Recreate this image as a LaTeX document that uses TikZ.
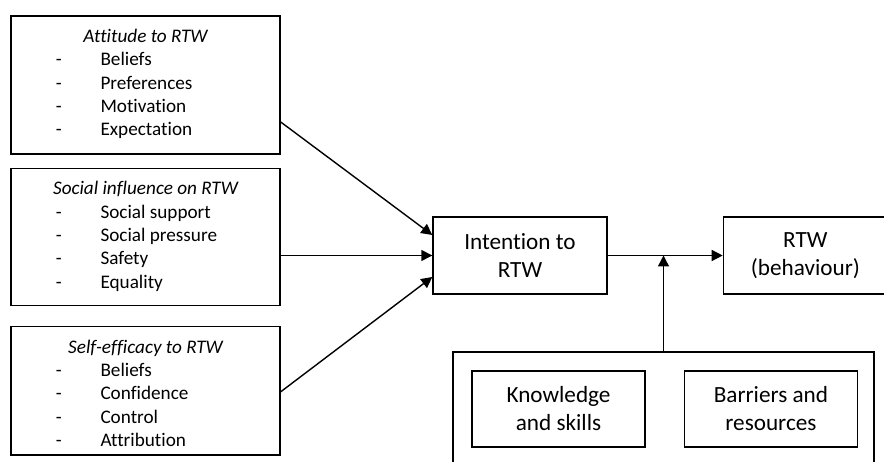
\documentclass[tikz,border=0pt]{standalone}
\usepackage{fontspec}
\setmainfont[Ligatures=NoCommon]{Carlito}
\usetikzlibrary{arrows.meta,positioning,calc}
\tikzset{
  >={Triangle[length=11pt,width=11pt]},
  box/.style  ={draw=black,line width=1.4pt,inner sep=0pt,align=center,
                font=\fontsize{23.2}{28}\selectfont},
  fbox/.style ={box,minimum width=269pt},
  mbox/.style ={box,minimum width=173pt,minimum height=76pt},
  head/.style ={font=\fontsize{19.2}{23}\selectfont\itshape,inner sep=0pt,anchor=base},
  item/.style ={font=\fontsize{19.2}{23}\selectfont,inner sep=0pt,anchor=base west},
  dsh/.style  ={font=\fontsize{19.2}{23}\selectfont,inner sep=0pt,anchor=base},
  ar/.style   ={->,line width=1.4pt},
}

\begin{document}
\begin{tikzpicture}[x=1pt,y=-1pt]
\useasboundingbox (0,0) rectangle (884,462);
% the three factor boxes
\node[fbox,minimum height=138pt] (att) at (145.5,85) {};
\node[fbox,minimum height=137pt,below=13pt of att] (soc) {};
\node[fbox,minimum height=128pt,below=20pt of soc] (eff) {};
\node[head] (att-h) at ($(att.north)+(0,27)$) {Attitude to RTW};
\node[head] (soc-h) at ($(soc.north)+(0,27)$) {Social influence on RTW};
\node[head] (eff-h) at ($(eff.north)+(0,27)$) {Self-efficacy to RTW};
\foreach \w [count=\i] in {Beliefs,Preferences,Motivation,Expectation}{
  \node[dsh] (att-d\i) at ($(att.north west)+(48.5,27+23.4*\i)$) {-};
  \node[item] (att-\i) at ($(att.north west)+(90,27+23.4*\i)$) {\w};
}
\foreach \w [count=\i] in {Social support,Social pressure,Safety,Equality}{
  \node[dsh] (soc-d\i) at ($(soc.north west)+(48.5,27+23.4*\i)$) {-};
  \node[item] (soc-\i) at ($(soc.north west)+(90,27+23.4*\i)$) {\w};
}
\foreach \w [count=\i] in {Beliefs,Confidence,Control,Attribution}{
  \node[dsh] (eff-d\i) at ($(eff.north west)+(48.5,27+23.4*\i)$) {-};
  \node[item] (eff-\i) at ($(eff.north west)+(90,27+23.4*\i)$) {\w};
}
% intention and behaviour
\node[box,minimum width=174pt,minimum height=77pt] (int) at (520,255.5) {Intention to\\RTW};
\node[box,minimum width=164pt,minimum height=77pt,right=115pt of int] (rtw) {RTW\\(behaviour)};
% moderators
\node[box,minimum width=421pt,minimum height=113pt] (env) at (663.5,408.5) {};
\node[mbox] (know) at (558.5,409) {Knowledge\\and skills};
\node[mbox,right=38pt of know] (barr) {Barriers and\\resources};
\coordinate (j) at (env.north |- int.east);
\draw[ar] ($(att.east)+(0,37)$) -- ($(int.west)+(0,-20.5)$);
\draw[ar] (soc.east |- int.west) -- (int.west);
\draw[ar] ($(eff.east)+(0,1)$) -- ($(int.west)+(0,21.5)$);
\draw[ar] (int) -- (rtw);
\draw[ar] (env.north) -- (j);
\end{tikzpicture}
\end{document}
